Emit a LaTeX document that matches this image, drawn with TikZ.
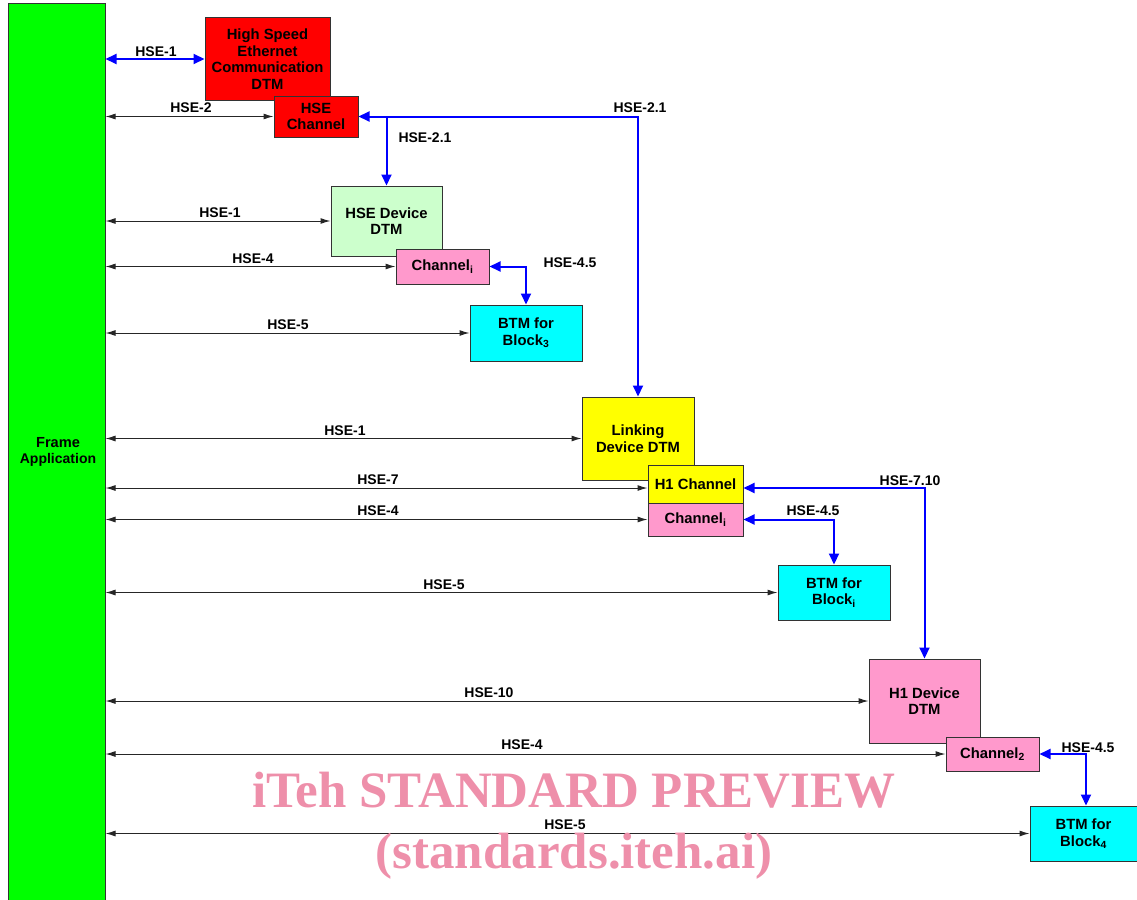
\documentclass[tikz,border=0pt]{standalone}
\usepackage{fontspec}
\setmainfont{Liberation Sans}
\newfontfamily\wmfont{Liberation Serif}
\usetikzlibrary{arrows.meta,calc}
\definecolor{framegreen}{HTML}{00FF00}
\definecolor{hsered}{HTML}{FF0000}
\definecolor{devgreen}{HTML}{CCFFCC}
\definecolor{chpink}{HTML}{FF99CC}
\definecolor{btmcyan}{HTML}{00FFFF}
\definecolor{ldyellow}{HTML}{FFFF00}
\definecolor{wmpink}{HTML}{EE8FAA}
\definecolor{edge}{HTML}{333333}
\tikzset{
  box/.style={draw=edge, line width=1pt, inner sep=0pt, align=center,
    font=\fontsize{14.8}{16.6}\selectfont\bfseries},
  blk/.style={draw=black!85, line width=1pt, {Latex[length=10pt,width=6pt]}-{Latex[length=10pt,width=6pt]}},
  blu/.style={draw=blue, line width=2pt},
  bluboth/.style={{Triangle[length=11pt,width=10pt]}-{Triangle[length=11pt,width=10pt]}},
  bluhead/.style={-{Triangle[length=11pt,width=10pt]}},
  lbl/.style={font=\fontsize{14}{16}\selectfont\bfseries, inner sep=0pt, align=center},
  wm/.style={font=\wmfont\fontsize{51}{51}\selectfont\bfseries, text=wmpink, inner sep=0pt, anchor=base}
}
\begin{document}
\begin{tikzpicture}[x=1pt,y=-1pt]
\useasboundingbox (0,0) rectangle (1137,899);
\begin{scope}
\clip (0,0) rectangle (1137,899);
% Frame application
\node[box, fill=framegreen, minimum width=97, minimum height=905] (frame) at (56.5,456.5) {};
\node[lbl] (frametxt) at (58,452) {\fontsize{14.6}{16}\selectfont Frame\\Application};

% HSE communication DTM
\node[box, fill=hsered, minimum width=125, minimum height=82] (comm) at (267.5,59) {High Speed\\Ethernet\\Communication\\DTM};
\node[box, fill=hsered, minimum width=84, minimum height=41] (hsech) at (316,116.5) {HSE\\Channel};

% HSE device
\node[box, fill=devgreen, minimum width=111, minimum height=70] (hsedev) at (386.5,221) {HSE Device\\DTM};
\node[box, fill=chpink, minimum width=93, minimum height=35] (ch1) at (442.5,266.5) {Channel\textsubscript{i}};
\node[box, fill=btmcyan, minimum width=112, minimum height=56] (btm3) at (526,333) {BTM for\\Block\textsubscript{3}};

% Linking device
\node[box, fill=ldyellow, minimum width=112, minimum height=83] (link) at (638,438.5) {Linking\\Device DTM};
\node[box, fill=ldyellow, minimum width=95, minimum height=38] (h1ch) at (695.5,484) {\raisebox{-4pt}{H1 Channel}};
\node[box, fill=chpink, minimum width=95, minimum height=33] (ch2) at (695.5,519.5) {Channel\textsubscript{i}};
\node[box, fill=btmcyan, minimum width=112, minimum height=55] (btmi) at (834,592.5) {BTM for\\Block\textsubscript{i}};

% H1 device
\node[box, fill=chpink, minimum width=111, minimum height=84] (h1dev) at (924.5,701) {H1 Device\\DTM};
\node[box, fill=chpink, minimum width=93, minimum height=34] (ch3) at (992.5,754) {Channel\textsubscript{2}};
\node[box, fill=btmcyan, minimum width=107, minimum height=55] (btm4) at (1083.5,833.5) {BTM for\\Block\textsubscript{4}};

% black connectors from frame
\draw[blk] (frame.east |- hsech.west) -- (hsech.west);
\draw[blk] (frame.east |- hsedev.west) -- (hsedev.west);
\draw[blk] (frame.east |- ch1.west) -- (ch1.west);
\draw[blk] (frame.east |- btm3.west) -- (btm3.west);
\draw[blk] (frame.east |- link.west) -- (link.west);
\draw[blk] (frame.east |- 0,488) -- (h1ch.west |- 0,488);
\draw[blk] (frame.east |- ch2.west) -- (ch2.west);
\draw[blk] (frame.east |- btmi.west) -- (btmi.west);
\draw[blk] (frame.east |- h1dev.west) -- (h1dev.west);
\draw[blk] (frame.east |- ch3.west) -- (ch3.west);
\draw[blk] (frame.east |- btm4.west) -- (btm4.west);

% blue connectors
\draw[blu, bluboth] (frame.east |- comm.west) -- (comm.west);
\draw[blu, bluboth] (hsech.east) -| (link.north);
\draw[blu, bluhead] (hsedev.north |- hsech.east) -- (hsedev.north);
\draw[blu, bluboth] (ch1.east) -| (btm3.north);
\draw[blu, bluboth] (h1ch.east |- 0,488) -| (h1dev.north);
\draw[blu, bluboth] (ch2.east) -| (btmi.north);
\coordinate (b4top) at ($(btm4.north)+(2.5,0)$);
\draw[blu, bluboth] (ch3.east) -| (b4top);

% labels
\node[lbl] (l1) at (156,52) {HSE-1};
\node[lbl] (l2) at (191,108) {HSE-2};
\node[lbl] (l3) at (640,108) {HSE-2.1};
\node[lbl] (l4) at (425,138) {HSE-2.1};
\node[lbl] (l5) at (220,213) {HSE-1};
\node[lbl] (l6) at (253,259) {HSE-4};
\node[lbl] (l7) at (570,263) {HSE-4.5};
\node[lbl] (l8) at (288,325) {HSE-5};
\node[lbl] (l9) at (345,431) {HSE-1};
\node[lbl] (l10) at (378,480) {HSE-7};
\node[lbl] (l11) at (378,511) {HSE-4};
\node[lbl] (l12) at (910,481) {HSE-7.10};
\node[lbl] (l13) at (813,511) {HSE-4.5};
\node[lbl] (l14) at (444,585) {HSE-5};
\node[lbl] (l15) at (489,693) {HSE-10};
\node[lbl] (l16) at (522,745) {HSE-4};
\node[lbl] (l17) at (1088,748) {HSE-4.5};
\node[lbl] (l18) at (565,825) {HSE-5};

% watermark
\node[wm] (wm1) at (574,807) {iTeh STANDARD PREVIEW};
\node[wm] (wm2) at (574,868) {(standards.iteh.ai)};
\end{scope}
\end{tikzpicture}
\end{document}
